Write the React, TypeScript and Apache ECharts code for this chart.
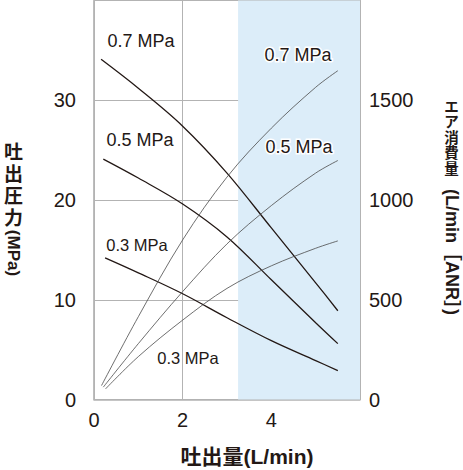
import { useEffect, useRef } from "react";
import * as echarts from "echarts";

// Discharge pressure (MPa, left axis) vs discharge flow (L/min)
const p07X = [0.16, 1, 2, 3, 4, 5, 5.5];
const p07Y = [34.1, 31.2, 27.4, 22.7, 17.2, 11.7, 8.9];
const p05X = [0.21, 1, 2, 3, 4, 5, 5.5];
const p05Y = [24.1, 22.2, 19.6, 16.3, 12.0, 7.7, 5.6];
const p03X = [0.25, 1, 2, 3, 4, 5, 5.5];
const p03Y = [14.2, 12.7, 10.6, 8.2, 5.9, 3.9, 2.9];

// Air consumption (L/min[ANR], right axis) vs discharge flow (L/min)
const a07X = [0.17, 1, 2, 3, 4, 5, 5.5];
const a07Y = [70, 415, 800, 1115, 1360, 1565, 1648];
const a05X = [0.21, 1, 2, 3, 4, 5, 5.5];
const a05Y = [62, 280, 541, 780, 972, 1135, 1198];
const a03X = [0.26, 1, 2, 3, 4, 5, 5.5];
const a03Y = [53, 215, 398, 557, 670, 758, 795];

// Shaded range of flow
const shadeRange = [3.25, 6];

const xTitle = "吐出量(L/min)";
const leftTitleCJK = ["吐", "出", "圧", "力"];
const leftTitleLatin = "(MPa)";
const rightTitleCJK = ["エ", "ア", "消", "費", "量"];
const rightTitleLatin = "(L/min［ANR］)";

const TXT = "#231815";
const FONT = "'Liberation Sans', Arial, 'Noto Sans CJK JP', sans-serif";

const zip = (xs: number[], ys: number[]) => xs.map((x, i) => [x, ys[i]]);

export default function App() {
  const ref = useRef<HTMLDivElement>(null);
  useEffect(() => {
    if (!ref.current) return;
    const chart = echarts.init(ref.current, undefined, { renderer: "svg" });
    const pressureStyle = { color: TXT, width: 1.3 };
    const airStyle = { color: "#4a4a4a", width: 0.8 };
    const lbl = (text: string, x: number, y: number, size: number, halo: boolean) => ({
      type: "text",
      x,
      y,
      style: {
        text,
        fill: TXT,
        font: `${size}px ${FONT}`,
        textAlign: "center",
        textVerticalAlign: "middle",
        stroke: halo ? "#fff" : undefined,
        lineWidth: halo ? 3 : 0,
      },
      z: 10,
    });
    const vchar = (ch: string, x: number, y: number, size: number) => ({
      type: "text",
      x,
      y,
      style: { text: ch, fill: TXT, font: `bold ${size}px ${FONT}`, textAlign: "center", textVerticalAlign: "middle" },
    });
    const line = (name: string, yIdx: number, xs: number[], ys: number[], ls: any) => ({
      name,
      type: "line",
      yAxisIndex: yIdx,
      data: zip(xs, ys),
      smooth: 0.35,
      symbol: "none",
      lineStyle: ls,
    });
    chart.setOption({
      animation: false,
      grid: {
        left: 94,
        right: 103,
        top: 0.5,
        bottom: 70.5,
        show: true,
        borderColor: "#b3b3b3",
        borderWidth: 1,
        backgroundColor: "transparent",
      },
      xAxis: {
        type: "value",
        min: 0,
        max: 6,
        interval: 2,
        axisLine: { show: true, lineStyle: { color: "#b3b3b3", width: 1.5 } },
        axisTick: { show: false },
        axisLabel: {
          color: TXT,
          fontSize: 20,
          fontFamily: FONT,
          margin: 10,
          formatter: (v: number) => (v === 6 ? "" : String(v)),
        },
        splitLine: { show: true, lineStyle: { color: "#b3b3b3", width: 1 } },
      },
      yAxis: [
        {
          type: "value",
          min: 0,
          max: 40,
          interval: 10,
          axisLine: { show: true, lineStyle: { color: "#b3b3b3", width: 1.5 } },
          axisTick: { show: false },
          axisLabel: {
            color: TXT,
            fontSize: 20,
            fontFamily: FONT,
            margin: 18,
            formatter: (v: number) => (v === 40 ? "" : String(v)),
          },
          splitLine: { show: true, lineStyle: { color: "#b3b3b3", width: 1 } },
        },
        {
          type: "value",
          min: 0,
          max: 2000,
          interval: 500,
          position: "right",
          axisLine: { show: true, lineStyle: { color: "#b3b3b3", width: 1 } },
          axisTick: { show: false },
          axisLabel: {
            color: TXT,
            fontSize: 20,
            fontFamily: FONT,
            margin: 9,
            formatter: (v: number) => (v === 2000 ? "" : String(v)),
          },
          splitLine: { show: false },
        },
      ],
      series: [
        {
          type: "line",
          data: [],
          z: -1,
          silent: true,
          markArea: {
            silent: true,
            itemStyle: { color: "#dcedf9" },
            data: [[{ xAxis: shadeRange[0] }, { xAxis: shadeRange[1] }]],
          },
        },
        line("p07", 0, p07X, p07Y, pressureStyle),
        line("p05", 0, p05X, p05Y, pressureStyle),
        line("p03", 0, p03X, p03Y, pressureStyle),
        line("a07", 1, a07X, a07Y, airStyle),
        line("a05", 1, a05X, a05Y, airStyle),
        line("a03", 1, a03X, a03Y, airStyle),
      ],
      graphic: [
        lbl("0.7 MPa", 141, 41, 18, false),
        lbl("0.5 MPa", 140, 140, 18, false),
        lbl("0.3 MPa", 137, 245, 16.5, false),
        lbl("0.7 MPa", 298, 55, 18, true),
        lbl("0.5 MPa", 299, 147, 18, true),
        lbl("0.3 MPa", 188, 358, 16.5, true),
        {
          type: "text",
          x: 247,
          y: 456,
          style: { text: xTitle, fill: TXT, font: `bold 21px ${FONT}`, textAlign: "center", textVerticalAlign: "middle" },
        },
        ...leftTitleCJK.map((ch, i) => vchar(ch, 13.5, 152.5 + i * 22, 19)),
        {
          type: "text",
          x: 13.5,
          y: 253,
          rotation: -Math.PI / 2,
          style: { text: leftTitleLatin, fill: TXT, font: `bold 17px ${FONT}`, textAlign: "center", textVerticalAlign: "middle" },
        },
        ...rightTitleCJK.map((ch, i) => vchar(ch, 451.5, 106.5 + i * 15.6, 14.5)),
        {
          type: "text",
          x: 451.5,
          y: 252,
          rotation: -Math.PI / 2,
          style: { text: rightTitleLatin, fill: TXT, font: `bold 18px ${FONT}`, textAlign: "center", textVerticalAlign: "middle" },
        },
      ],
    });
    return () => chart.dispose();
  }, []);
  return <div ref={ref} style={{ position: "absolute", left: 0, top: 0, width: 463, height: 470 }} />;
}
